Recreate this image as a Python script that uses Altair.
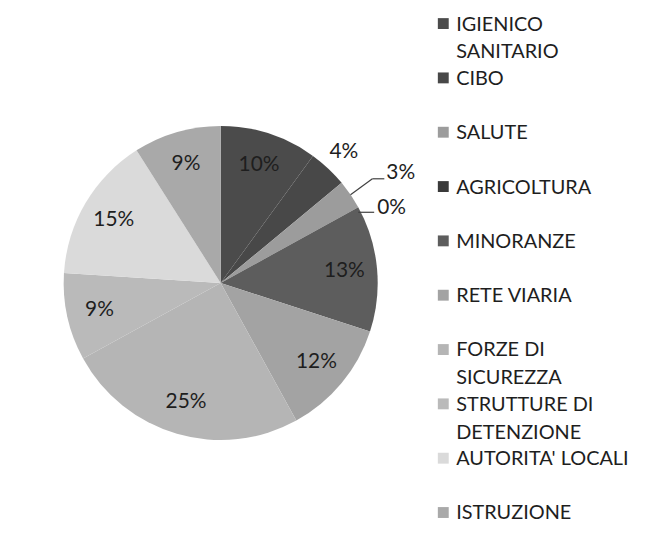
import altair as alt
import pandas as pd

categories = ["IGIENICO SANITARIO", "CIBO", "SALUTE", "AGRICOLTURA", "MINORANZE",
              "RETE VIARIA", "FORZE DI SICUREZZA", "STRUTTURE DI DETENZIONE",
              "AUTORITA' LOCALI", "ISTRUZIONE"]
legend_labels = ["IGIENICO\nSANITARIO", "CIBO", "SALUTE", "AGRICOLTURA", "MINORANZE",
                 "RETE VIARIA", "FORZE DI\nSICUREZZA", "STRUTTURE DI\nDETENZIONE",
                 "AUTORITA' LOCALI", "ISTRUZIONE"]
percentages = [10, 4, 3, 0, 13, 12, 25, 9, 15, 9]
shades = ["#4b4b4b", "#484848", "#9c9c9c", "#3a3a3a", "#5d5d5d",
          "#a3a3a3", "#b5b5b5", "#bababa", "#dadada", "#a9a9a9"]

df = pd.DataFrame({
    "idx": list(range(len(categories))),
    "cat": categories,
    "leg": legend_labels,
    "value": percentages,
})

CX, CY, R = 212, 273, 158
FONT = "Lato"
TXT = "#1e1e1e"
PSIZE = 21

color = alt.Color("cat:N", scale=alt.Scale(domain=categories, range=shades), legend=None)

pie = alt.Chart(df).mark_arc(outerRadius=R).encode(
    theta=alt.Theta("value:Q", stack=True),
    color=color,
    order=alt.Order("idx:Q"),
    x=alt.value(CX),
    y=alt.value(CY),
)

base = alt.Chart(df).transform_window(
    cum="sum(value)", sort=[alt.SortField("idx")], frame=[None, 0]
).transform_calculate(
    mid="(datum.cum - datum.value/2) / 100 * 2 * PI",
    lab="datum.value + '%'",
    ex=f"{CX} + {R} * sin(datum.mid)",
    ey=f"{CY} - {R} * cos(datum.mid)",
)

inside = base.transform_filter("datum.value >= 5").transform_calculate(
    lx=f"{CX} + 125 * sin(datum.mid)",
    ly=f"{CY} - 125 * cos(datum.mid)",
).mark_text(font=FONT, fontSize=PSIZE, color=TXT, baseline="middle").encode(
    x=alt.X("lx:Q", scale=None, axis=None),
    y=alt.Y("ly:Q", scale=None, axis=None),
    text="lab:N",
)

cibo = base.transform_filter("datum.cat == 'CIBO'").transform_calculate(
    lx=f"{CX} + 181 * sin(datum.mid)",
    ly=f"{CY} - 181 * cos(datum.mid)",
).mark_text(font=FONT, fontSize=PSIZE, color=TXT, baseline="middle").encode(
    x=alt.X("lx:Q", scale=None, axis=None),
    y=alt.Y("ly:Q", scale=None, axis=None),
    text="lab:N",
)

# SALUTE: elbow leader line
sal = base.transform_filter("datum.cat == 'SALUTE'").transform_calculate(
    bx="datum.ex + 22", by="datum.ey - 16", cx2="datum.ex + 34",
)
sal_diag = sal.mark_rule(color="#404040", strokeWidth=1.2).encode(
    x=alt.X("ex:Q", scale=None, axis=None), y=alt.Y("ey:Q", scale=None, axis=None),
    x2="bx:Q", y2="by:Q",
)
sal_hor = sal.mark_rule(color="#404040", strokeWidth=1.2).encode(
    x=alt.X("bx:Q", scale=None, axis=None), y=alt.Y("by:Q", scale=None, axis=None),
    x2="cx2:Q",
)
sal_txt = sal.mark_text(font=FONT, fontSize=PSIZE, color=TXT, align="left",
                        baseline="middle", dx=2, dy=-6).encode(
    x=alt.X("cx2:Q", scale=None, axis=None), y=alt.Y("by:Q", scale=None, axis=None),
    text="lab:N",
)

# AGRICOLTURA: short horizontal leader
agr = base.transform_filter("datum.cat == 'AGRICOLTURA'").transform_calculate(
    ey2="datum.ey + 5", bx="datum.ex + 16",
)
agr_line = agr.mark_rule(color="#404040", strokeWidth=1.2).encode(
    x=alt.X("ex:Q", scale=None, axis=None), y=alt.Y("ey2:Q", scale=None, axis=None),
    x2="bx:Q",
)
agr_txt = agr.mark_text(font=FONT, fontSize=PSIZE, color=TXT, align="left",
                        baseline="middle", dx=3, dy=-4).encode(
    x=alt.X("bx:Q", scale=None, axis=None), y=alt.Y("ey2:Q", scale=None, axis=None),
    text="lab:N",
)

# legend drawn as marks on a point scale
leg_y = alt.Y("cat:N", sort=categories, axis=None,
              scale=alt.Scale(type="point", domain=categories, range=[12, 504], padding=0))
leg_sq = alt.Chart(df).mark_square(size=120, opacity=1).encode(
    x=alt.value(436), y=leg_y, color=color,
)
leg_txt = alt.Chart(df).mark_text(
    font=FONT, fontSize=20, color=TXT, align="left", baseline="alphabetic",
    dy=7, lineBreak="\n", lineHeight=28,
).encode(x=alt.value(449), y=leg_y, text="leg:N")

chart = alt.layer(
    pie, inside, cibo, sal_diag, sal_hor, sal_txt,
    agr_line, agr_txt, leg_sq, leg_txt,
).resolve_scale(x="independent", y="independent").properties(
    width=640, height=530,
    padding={"left": 2, "top": 2, "right": 2, "bottom": 2},
    background="white",
).configure_view(stroke="transparent", strokeWidth=0)

chart.save("out.html", embed_options={"renderer": "svg", "actions": False})
